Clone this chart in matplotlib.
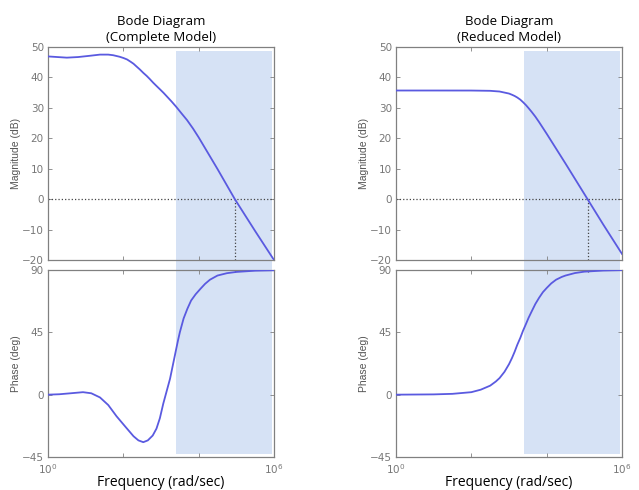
import matplotlib
matplotlib.use('Agg')
import matplotlib.pyplot as plt
from matplotlib.patches import Rectangle
from matplotlib.ticker import FixedLocator, NullLocator, FixedFormatter
import numpy as np

# frequency read as log10(w)
full_mag_logw = [0, 0.25, 0.5, 0.8, 1.1, 1.38, 1.6, 1.73, 1.9, 2.0, 2.1, 2.2, 2.27, 2.35, 2.44, 2.53, 2.62,
                 2.7, 2.79, 2.88, 2.98, 3.07, 3.16, 3.28, 3.4, 3.55, 3.69, 3.85, 4.0, 4.5, 4.96, 5.5, 6.0]
full_mag_db = [46.9, 46.7, 46.5, 46.7, 47.1, 47.5, 47.5, 47.3, 46.8, 46.4, 45.9, 45.1, 44.5, 43.6, 42.6, 41.5, 40.5,
               39.5, 38.3, 37.2, 36.0, 34.9, 33.7, 32.1, 30.4, 28.1, 26.0, 23.2, 20.3, 9.9, 0.0, -10.5, -20.0]

full_ph_logw = [0, 0.3, 0.6, 0.93, 1.15, 1.38, 1.6, 1.82, 2.05, 2.27, 2.4, 2.53, 2.65, 2.78, 2.88, 2.97, 3.06,
                3.15, 3.24, 3.32, 3.4, 3.45, 3.5, 3.55, 3.6, 3.7, 3.8, 3.92, 4.05, 4.17, 4.3, 4.5, 4.75, 5.0, 5.5, 6.0]
full_ph_deg = [0.0, 0.3, 1.0, 1.8, 1.0, -2.0, -7.5, -15.6, -23.0, -30.0, -33.0, -34.3, -33.0, -29.5, -24.5, -17.0, -6.5,
               2.5, 11.5, 22.0, 32.5, 39.0, 45.0, 50.0, 55.0, 62.0, 68.0, 72.5, 76.5, 80.0, 83.0, 86.0, 87.7, 88.6, 89.5, 89.8]

red_mag_logw = [0, 1.0, 2.0, 2.5, 2.75, 3.0, 3.08, 3.15, 3.22, 3.3, 3.37, 3.45, 3.52, 3.6, 3.7, 3.8, 3.9, 4.0,
                4.5, 5.0, 5.5, 6.0]
red_mag_db = [35.7, 35.7, 35.69, 35.6, 35.37, 34.7, 34.3, 33.9, 33.4, 32.7, 31.9, 30.9, 29.9, 28.7, 27.1, 25.3, 23.4, 21.5,
              11.7, 1.7, -8.3, -18.0]

red_ph_logw = [0, 1.0, 1.5, 2.0, 2.25, 2.5, 2.65, 2.75, 2.88, 3.0, 3.08, 3.15, 3.22, 3.3, 3.37, 3.45, 3.52, 3.6,
               3.7, 3.8, 3.9, 4.0, 4.12, 4.25, 4.4, 4.5, 4.75, 5.0, 5.5, 6.0]
red_ph_deg = [0.0, 0.2, 0.6, 1.8, 3.6, 6.5, 9.5, 12.0, 16.5, 22.0, 26.5, 31.0, 36.0, 41.0, 46.0, 51.0, 55.5, 60.0,
              65.5, 70.0, 74.0, 77.0, 80.3, 83.0, 85.0, 86.0, 87.8, 88.8, 89.6, 89.9]

# crossover (0 dB) frequency and phase there
full_wc_logw, full_wc_ph = 4.96, 88.4
red_wc_logw, red_wc_ph = 5.09, 88.9

# shaded band
band_logw = (3.4, 5.95)
band_mag_top = 48.7
band_ph_bottom = -42.8

titles = ['Bode Diagram\n(Complete Model)', 'Bode Diagram\n(Reduced Model)']

line_color = '#5a5ae0'
band_color = '#d6e2f5'
grey = '#808080'
tick_grey = '#777777'
dot_grey = '#444444'

fig = plt.figure(figsize=(6.39, 4.90), dpi=100)
W, H = 639, 490


def box(x0, y_top, w, h):
    return [x0 / W, 1 - (y_top + h) / H, w / W, h / H]


lefts = [48, 396]
cases = [
    (full_mag_logw, full_mag_db, full_ph_logw, full_ph_deg, full_wc_logw, full_wc_ph),
    (red_mag_logw, red_mag_db, red_ph_logw, red_ph_deg, red_wc_logw, red_wc_ph),
]

for i, (ml, md, pl, pd_, wcl, wcp) in enumerate(cases):
    ax_m = fig.add_axes(box(lefts[i], 47, 226, 213))
    ax_p = fig.add_axes(box(lefts[i], 270, 226, 187))
    wc = 10 ** wcl

    for ax in (ax_m, ax_p):
        ax.set_xscale('log')
        ax.set_xlim(1, 1e6)
        ax.xaxis.set_major_locator(FixedLocator([1, 1e2, 1e4, 1e6]))
        ax.xaxis.set_minor_locator(NullLocator())
        ax.tick_params(direction='in', top=True, right=True, length=3, width=0.6,
                       colors=grey, labelcolor=tick_grey, labelsize=7.5, pad=3)
        for s in ax.spines.values():
            s.set_color(grey)
            s.set_linewidth(0.9)
        ax.set_facecolor('none')
        ax.set_zorder(2)

    ax_m.plot(10 ** np.array(ml), md, color=line_color, lw=1.3, zorder=3)
    ax_m.set_ylim(-20, 50)
    ax_m.set_yticks(range(-20, 51, 10))
    ax_m.set_xticklabels([])
    ax_m.axhline(0, color=dot_grey, lw=0.9, ls=':', zorder=2)
    ax_m.plot([wc, wc], [-20, 0], color=dot_grey, lw=0.9, ls=':', zorder=2)
    ax_m.set_ylabel('Magnitude (dB)', fontsize=7.5, color='#555555', family='Liberation Sans')
    ax_m.set_title(titles[i], fontsize=9.5, family='Open Sans', pad=4, linespacing=1.35)

    ax_p.plot(10 ** np.array(pl), pd_, color=line_color, lw=1.3, zorder=3)
    ax_p.set_ylim(-45, 90)
    ax_p.set_yticks([-45, 0, 45, 90])
    ax_p.plot([wc, wc], [wcp, 90], color=dot_grey, lw=0.9, ls=':', zorder=2)
    ax_p.xaxis.set_major_formatter(FixedFormatter(['$10^0$', '', '', '$10^6$']))
    ax_p.tick_params(axis='x', labelsize=7.5, pad=4)
    ax_p.set_ylabel('Phase (deg)', fontsize=7.5, color='#555555', family='Liberation Sans')
    ax_p.set_xlabel('Frequency (rad/sec)', fontsize=10, family='Open Sans')
    ax_p.xaxis.set_label_coords(0.5, -0.095)
    ax_p.yaxis.set_label_coords(-0.12, 0.5)
    ax_m.yaxis.set_label_coords(-0.12, 0.5)

    # shaded band spanning both panels, placed through the data transforms
    tl = ax_m.transData.transform((10 ** band_logw[0], band_mag_top))
    br = ax_p.transData.transform((10 ** band_logw[1], band_ph_bottom))
    inv = fig.transFigure.inverted()
    (x0, y1), (x1, y0) = inv.transform(tl), inv.transform(br)
    fig.add_artist(Rectangle((x0, y0), x1 - x0, y1 - y0, transform=fig.transFigure,
                             facecolor=band_color, edgecolor='none', zorder=0))

fig.savefig('out.png', dpi=100)
